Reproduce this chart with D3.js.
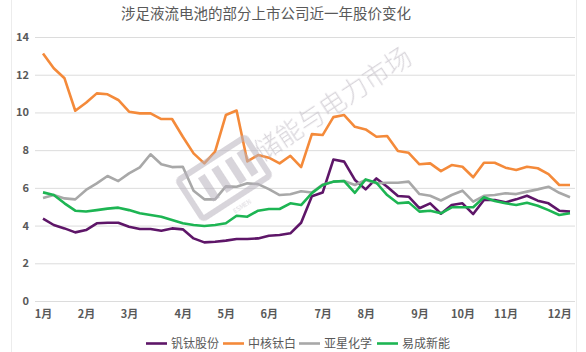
<!DOCTYPE html>
<html>
<head>
<meta charset="utf-8">
<script src="https://cdn.jsdelivr.net/npm/d3@7"></script>
<style>
  html, body { margin: 0; padding: 0; background: #fff; }
  svg { display: block; font-family: "Noto Sans CJK SC", "Noto Sans", sans-serif; }
</style>
</head>
<body>
<div id="chart"></div>
<script>
// weekly closing prices, 50 weeks
const monthLabels = ["1月", "2月", "3月", "4月", "5月", "6月", "7月", "8月", "9月", "10月", "11月", "12月"];
const monthIndex = [0, 4, 8, 13, 17, 21, 26, 30, 35, 39, 43, 48];
const yTicks = [0, 2, 4, 6, 8, 10, 12, 14];

const seriesNames = ["钒钛股份", "中核钛白", "亚星化学", "易成新能"];
const seriesColors = ["#5e1668", "#f48a3a", "#a8a8a8", "#1db553"];

const vanadium = [4.37, 4.03, 3.85, 3.64, 3.76, 4.12, 4.15, 4.15, 3.94, 3.82,
    3.82, 3.73, 3.85, 3.8, 3.32, 3.11, 3.14, 3.2, 3.29, 3.29,
    3.32, 3.46, 3.5, 3.59, 4.15, 5.55, 5.75, 7.5, 7.39, 6.42,
    5.92, 6.5, 6.06, 5.57, 5.53, 4.92, 5.18, 4.63, 5.09, 5.18,
    4.61, 5.36, 5.36, 5.23, 5.39, 5.58, 5.32, 5.18, 4.79, 4.74];
const cnnc = [13.13, 12.34, 11.81, 10.09, 10.51, 11.01, 10.96, 10.66, 10.04, 9.95,
    9.95, 9.65, 9.65, 8.71, 7.83, 7.3, 7.92, 9.86, 10.1, 7.4,
    7.74, 7.6, 7.3, 7.7, 7.1, 8.85, 8.8, 9.75, 9.86, 9.24,
    9.1, 8.71, 8.75, 7.95, 7.86, 7.25, 7.3, 6.89, 7.21, 7.12,
    6.56, 7.33, 7.33, 7.07, 6.95, 7.12, 7.04, 6.73, 6.15, 6.15];
const yaxing = [5.46, 5.62, 5.44, 5.39, 5.89, 6.24, 6.63, 6.36, 6.77, 7.09,
    7.78, 7.25, 7.1, 7.12, 5.85, 5.39, 5.39, 6.08, 6.06, 6.24,
    6.2, 5.93, 5.62, 5.66, 5.82, 5.75, 6.17, 6.33, 6.36, 6.15,
    6.42, 6.24, 6.27, 6.27, 6.33, 5.67, 5.58, 5.33, 5.62, 5.85,
    5.27, 5.58, 5.62, 5.71, 5.67, 5.8, 5.92, 6.06, 5.74, 5.5];
const yicheng = [5.76, 5.62, 5.18, 4.79, 4.75, 4.82, 4.9, 4.95, 4.82, 4.65,
    4.56, 4.47, 4.29, 4.12, 4.03, 3.98, 4.03, 4.12, 4.52, 4.47,
    4.79, 4.88, 4.88, 5.18, 5.09, 5.72, 6.15, 6.33, 6.36, 5.74,
    6.45, 6.27, 5.62, 5.18, 5.23, 4.74, 4.79, 4.65, 4.97, 4.97,
    4.97, 5.5, 5.3, 5.18, 5.09, 5.21, 5.05, 4.82, 4.56, 4.65];

const seriesValues = [vanadium, cnnc, yaxing, yicheng];

const width = 586, height = 352;
const margin = { "top": 37, "right": 11, "bottom": 51, "left": 35 };
const textColor = "#595959", gridColor = "#dcdcdc";

const svg = d3.select("#chart")
    .append("svg")
    .attr("width", width)
    .attr("height", height);

// chart frame edges
svg.append("line")
    .attr("x1", 11.5).attr("x2", 11.5)
    .attr("y1", 0).attr("y2", height)
    .attr("stroke", "#ececec");
svg.append("line")
    .attr("x1", 576.5).attr("x2", 576.5)
    .attr("y1", 0).attr("y2", height)
    .attr("stroke", "#ececec");

/** title */
svg.append("text")
    .attr("x", 266)
    .attr("y", 19)
    .attr("text-anchor", "middle")
    .attr("font-size", 14.5)
    .attr("fill", textColor)
    .text("涉足液流电池的部分上市公司近一年股价变化");

/** scales */
const idx = d3.range(vanadium.length);
const xScale = d3.scalePoint()
    .domain(idx)
    .range([43, 570]);
const yScale = d3.scaleLinear()
    .domain([0, 14])
    .range([height - margin.bottom, margin.top]);

/** grid + y labels */
const axisY = d3.axisLeft(yScale)
    .tickValues(yTicks)
    .tickSize(-(width - margin.left - margin.right))
    .tickPadding(6);

const gY = svg.append("g")
    .attr("class", "axis_y")
    .attr("transform", `translate(${margin.left},0)`)
    .call(axisY);
gY.select(".domain").remove();
gY.selectAll("line")
    .attr("stroke", gridColor)
    .attr("stroke-width", 1);
gY.selectAll("text")
    .attr("font-size", 11)
    .attr("font-weight", "bold")
    .attr("fill", textColor)
    .attr("font-family", "\"Noto Sans CJK SC\", sans-serif");

/** x labels */
const axisX = d3.axisBottom(xScale)
    .tickValues(monthIndex)
    .tickSize(0)
    .tickPadding(9)
    .tickFormat(d => monthLabels[monthIndex.indexOf(d)]);

const gX = svg.append("g")
    .attr("class", "axis_x")
    .attr("transform", `translate(0,${height - margin.bottom})`)
    .call(axisX);
gX.select(".domain").remove();
gX.selectAll("text")
    .attr("font-size", 11)
    .attr("font-weight", "bold")
    .attr("fill", textColor)
    .attr("font-family", "\"Noto Sans CJK SC\", sans-serif");

/** lines */
const line = d3.line()
    .x((d, i) => xScale(i))
    .y(d => yScale(d));

svg.append("g")
    .attr("class", "lineGroup")
    .attr("fill", "none")
    .selectAll("path")
    .data(seriesValues)
    .enter()
    .append("path")
    .attr("d", d => line(d))
    .attr("stroke", (d, i) => seriesColors[i])
    .attr("stroke-width", 2.6)
    .attr("stroke-linejoin", "round");

/** watermark */
const wm = svg.append("g")
    .attr("opacity", 0.55);
const logo = wm.append("g")
    .attr("transform", "translate(224,178) rotate(-33)");
logo.append("rect")
    .attr("x", -40).attr("y", -23)
    .attr("width", 80).attr("height", 46)
    .attr("rx", 3)
    .attr("fill", "none")
    .attr("stroke", "#b9b3bd")
    .attr("stroke-width", 6);
logo.selectAll(".bar")
    .data([-22, -6, 10, 24])
    .enter()
    .append("rect")
    .attr("x", d => d)
    .attr("y", -14)
    .attr("width", 8)
    .attr("height", 28)
    .attr("fill", "#b9b3bd");
logo.append("text")
    .attr("x", 0).attr("y", 36)
    .attr("text-anchor", "middle")
    .attr("font-size", 6)
    .attr("fill", "#b9b3bd")
    .text("ESMEN");
wm.append("text")
    .attr("transform", "translate(262,162) rotate(-33.5)")
    .attr("font-size", 26)
    .attr("font-weight", 300)
    .attr("fill", "#b9b3bd")
    .text("储能与电力市场");

/** legend */
const legendX = [146, 223, 299, 377];
const legend = svg.append("g")
    .attr("class", "legend");
legend.selectAll("line")
    .data(seriesNames)
    .enter()
    .append("line")
    .attr("x1", (d, i) => legendX[i])
    .attr("x2", (d, i) => legendX[i] + 21)
    .attr("y1", 343.5)
    .attr("y2", 343.5)
    .attr("stroke", (d, i) => seriesColors[i])
    .attr("stroke-width", 2.6);
legend.selectAll("text")
    .data(seriesNames)
    .enter()
    .append("text")
    .attr("x", (d, i) => legendX[i] + 25)
    .attr("y", 348)
    .attr("font-size", 12)
    .attr("fill", textColor)
    .text(d => d);
</script>
</body>
</html>
